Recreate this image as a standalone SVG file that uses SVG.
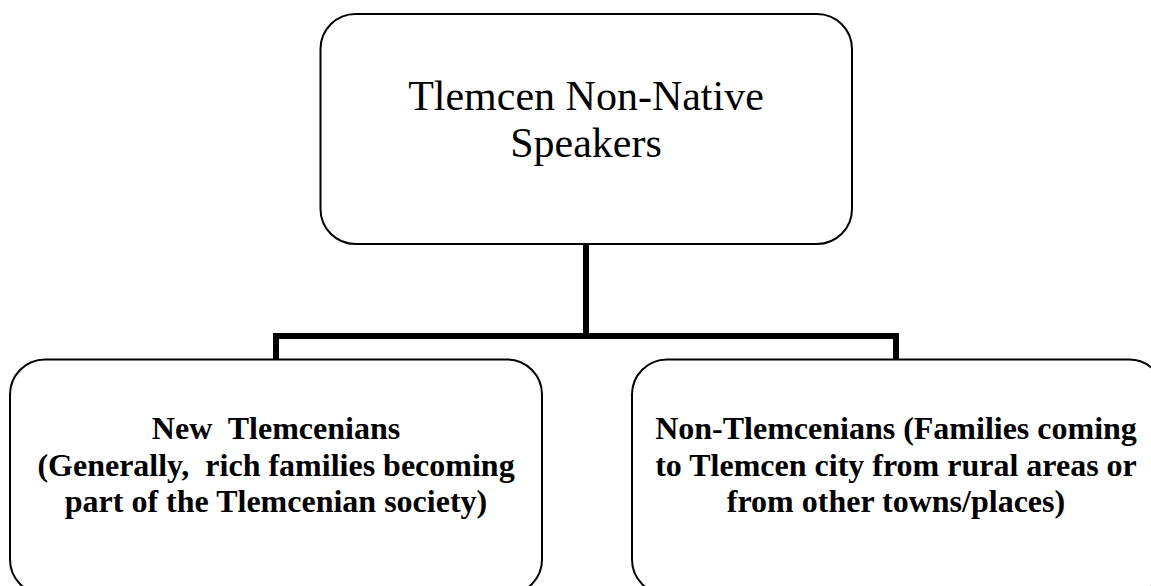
<svg xmlns="http://www.w3.org/2000/svg" width="1151" height="586" viewBox="0 0 1151 586">
<style>
.box{fill:#fff;stroke:#000;stroke-width:2}
.conn{fill:none;stroke:#000;stroke-width:6;stroke-linejoin:miter}
.t1{font-family:"Liberation Serif","Times New Roman",serif;font-size:42px;fill:#000;text-anchor:middle}
.t2{font-family:"Liberation Serif","Times New Roman",serif;font-size:32px;font-weight:bold;fill:#000;text-anchor:middle;white-space:pre}
</style>
<rect width="1151" height="586" fill="#fff"/>
<g id="connectors">
<path class="conn" d="M586,244 V336"/>
<path class="conn" d="M276,360 V336 H896 V360"/>
</g>
<g id="node-top">
<rect class="box" x="320.5" y="14" width="531.5" height="230" rx="35" ry="35"/>
<text class="t1" x="586" y="110">Tlemcen Non-Native</text>
<text class="t1" x="586" y="157">Speakers</text>
</g>
<g id="node-left">
<rect class="box" x="10" y="359.5" width="532" height="235" rx="35" ry="35"/>
<text class="t2" x="276" y="439" xml:space="preserve">New  Tlemcenians</text>
<text class="t2" x="276" y="475.5" xml:space="preserve">(Generally,  rich families becoming</text>
<text class="t2" x="276" y="512">part of the Tlemcenian society)</text>
</g>
<g id="node-right">
<rect class="box" x="632" y="359.5" width="532" height="235" rx="35" ry="35"/>
<text class="t2" x="896" y="439">Non-Tlemcenians (Families coming</text>
<text class="t2" x="896" y="475.5">to Tlemcen city from rural areas or</text>
<text class="t2" x="896" y="512">from other towns/places)</text>
</g>
</svg>
